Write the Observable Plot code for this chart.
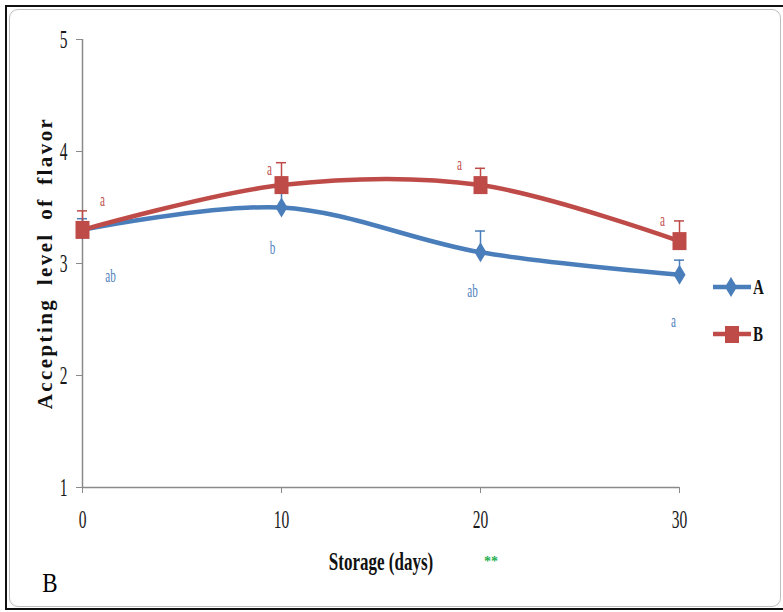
<!DOCTYPE html>
<html>
<head>
<meta charset="utf-8">
<script src="https://cdn.jsdelivr.net/npm/d3@7"></script>
<script src="https://cdn.jsdelivr.net/npm/@observablehq/plot@0.6"></script>
<style>
  body { margin: 0; background: #fff; }
  #wrap { position: relative; width: 783px; height: 612px; overflow: hidden;
          font-family: "Liberation Serif", "Times New Roman", serif; }
  #outer { position: absolute; left: 5px; top: 5px; width: 790px; height: 605px;
           border: 2px solid #111; box-sizing: border-box; }
  #inner { position: absolute; left: 9px; top: 9px; width: 772px; height: 598px;
           border: 1.5px solid #bdbdbd; border-radius: 9px; box-sizing: border-box; }
  #chart { position: absolute; left: 0; top: 0; }
  .anchor { position: absolute; width: 0; height: 0; }
  .anchor > div { position: absolute; white-space: nowrap; line-height: 1; }
  #ytitle > div { font-weight: bold; font-size: 21px; letter-spacing: 2.4px; word-spacing: 5px;
                  transform: translate(-50%, -50%) rotate(-90deg); color: #111; }
  #xtitle > div { font-weight: bold; font-size: 25px; transform: translate(-50%, -50%) scale(0.68, 1); color: #111; }
  #stars > div { font-weight: bold; font-size: 14px; color: #1fb050; transform: translate(-50%, -50%); }
  #panel > div { font-size: 28px; transform: translate(-50%, -50%) scale(0.82, 1); color: #000; }
  .legend { position: absolute; left: 713px; display: flex; align-items: center; height: 20px; }
  .legend span { font-weight: bold; font-size: 20px; display: inline-block; transform: scale(0.75, 1);
                 transform-origin: left center; margin-left: 2px; color: #111; }
</style>
</head>
<body>
<div id="wrap">
  <div id="outer"></div>
  <div id="inner"></div>
  <div id="chart"></div>
  <div class="anchor" id="ytitle" style="left:45px; top:263px;"><div>Accepting level of flavor</div></div>
  <div class="anchor" id="xtitle" style="left:381px; top:561px;"><div>Storage (days)</div></div>
  <div class="anchor" id="stars" style="left:491px; top:562px;"><div>**</div></div>
  <div class="anchor" id="panel" style="left:50px; top:583px;"><div>B</div></div>
  <div id="legend"></div>
</div>
<script>
// Storage time (days) and mean flavour acceptance scores for the two samples
const days = [0, 10, 20, 30];
const seriesA = [3.3, 3.5, 3.1, 2.9];
const seriesB = [3.3, 3.7, 3.7, 3.2];
// Upper error bars (standard deviation)
const errA = [0.1, 0.15, 0.19, 0.13];
const errB = [0.17, 0.2, 0.15, 0.18];
// Significance letters
const lettersA = ["ab", "b", "ab", "a"];
const lettersB = ["a", "a", "a", "a"];
// Axis ticks
const xTicks = [0, 10, 20, 30];
const yTicks = [1, 2, 3, 4, 5];
const seriesNames = ["A", "B"];

// Label offsets (px) relative to each point
const offsetsA = [[28, 46], [-9, 41], [-8, 39], [-6, 47]];
const offsetsB = [[20, -30], [-12, -16], [-21, -21], [-17, -21]];

const colors = { A: "#4a7ebb", B: "#be4b48" };
const letterColors = { A: "#4f81bd", B: "#c0504d" };

const rows = [];
days.forEach((d, i) => {
  rows.push({ series: "A", day: d, value: seriesA[i], err: errA[i], letter: lettersA[i], off: offsetsA[i] });
  rows.push({ series: "B", day: d, value: seriesB[i], err: errB[i], letter: lettersB[i], off: offsetsB[i] });
});
const rowsA = rows.filter(r => r.series === "A");
const rowsB = rows.filter(r => r.series === "B");

// Custom marker shapes: a tall diamond for A, a slightly tall square for B
const tallDiamond = { draw(ctx) { ctx.moveTo(0, -10); ctx.lineTo(6, 0); ctx.lineTo(0, 10); ctx.lineTo(-6, 0); ctx.closePath(); } };
const tallSquare = { draw(ctx) { ctx.rect(-7, -9, 14, 18); } };

function errorMarks(data, color) {
  return [
    Plot.ruleX(data, { x: "day", y1: "value", y2: d => d.value + d.err, stroke: color, strokeWidth: 1.5 }),
    Plot.ruleY(data, { y: d => d.value + d.err, x1: "day", x2: "day", insetLeft: -5, insetRight: -5, stroke: color, strokeWidth: 1.5 })
  ];
}

function letterMarks(data, color) {
  return data.map(d => Plot.text([d], {
    x: "day", y: "value", text: "letter", fill: color, fontSize: 18,
    dx: d.off[0], dy: d.off[1]
  }));
}

const chart = Plot.plot({
  width: 783,
  height: 612,
  marginLeft: 82,
  marginRight: 104,
  marginTop: 39,
  marginBottom: 125,
  style: { background: "transparent", fontFamily: "'Liberation Serif', 'Times New Roman', serif", overflow: "visible" },
  x: { domain: [0, 30] },
  y: { domain: [1, 5] },
  marks: [
    Plot.ruleY([1], { x1: 0, x2: 30, stroke: "#8a8a8a", strokeWidth: 1.5 }),
    Plot.ruleX([0], { y1: 1, y2: 5, stroke: "#8a8a8a", strokeWidth: 1.5 }),
    Plot.axisX(xTicks, { tickSize: 6, tickPadding: 17, fontSize: 25, stroke: "#8a8a8a", fill: "#1a1a1a", label: null, tickFormat: d => String(d) }),
    Plot.axisY(yTicks, { tickSize: 6, tickPadding: 9, fontSize: 25, stroke: "#8a8a8a", fill: "#1a1a1a", label: null, tickFormat: d => String(d) }),
    Plot.line(rowsA, { x: "day", y: "value", stroke: colors.A, strokeWidth: 4.5, curve: "catmull-rom" }),
    Plot.line(rowsB, { x: "day", y: "value", stroke: colors.B, strokeWidth: 4.5, curve: "catmull-rom" }),
    ...errorMarks(rowsA, colors.A),
    ...errorMarks(rowsB, colors.B),
    Plot.dot(rowsA, { x: "day", y: "value", symbol: tallDiamond, fill: colors.A, stroke: "none" }),
    Plot.dot(rowsB, { x: "day", y: "value", symbol: tallSquare, fill: colors.B, stroke: "none" }),
    ...letterMarks(rowsA, letterColors.A),
    ...letterMarks(rowsB, letterColors.B)
  ]
});
document.getElementById("chart").appendChild(chart);

// Narrow the serif glyphs horizontally (narrow typeface look)
chart.querySelectorAll("text").forEach(el => {
  const w = el.getComputedTextLength();
  if (w > 0) {
    el.setAttribute("textLength", (w * 0.62).toFixed(2));
    el.setAttribute("lengthAdjust", "spacingAndGlyphs");
  }
});

// Legend: line with its marker, followed by the series name
const legend = document.getElementById("legend");
const legendTops = [277, 324];
seriesNames.forEach((name, i) => {
  const item = document.createElement("div");
  item.className = "legend";
  item.style.top = legendTops[i] + "px";
  const marker = name === "A"
    ? `<path d="M18,0 L24,10 L18,20 L12,10 Z" fill="${colors.A}"/>`
    : `<rect x="12" y="2" width="14" height="17" fill="${colors.B}"/>`;
  item.innerHTML = `<svg width="38" height="20"><line x1="0" x2="38" y1="10" y2="10" stroke="${colors[name]}" stroke-width="4.5"/>${marker}</svg><span>${name}</span>`;
  legend.appendChild(item);
});
</script>
</body>
</html>
